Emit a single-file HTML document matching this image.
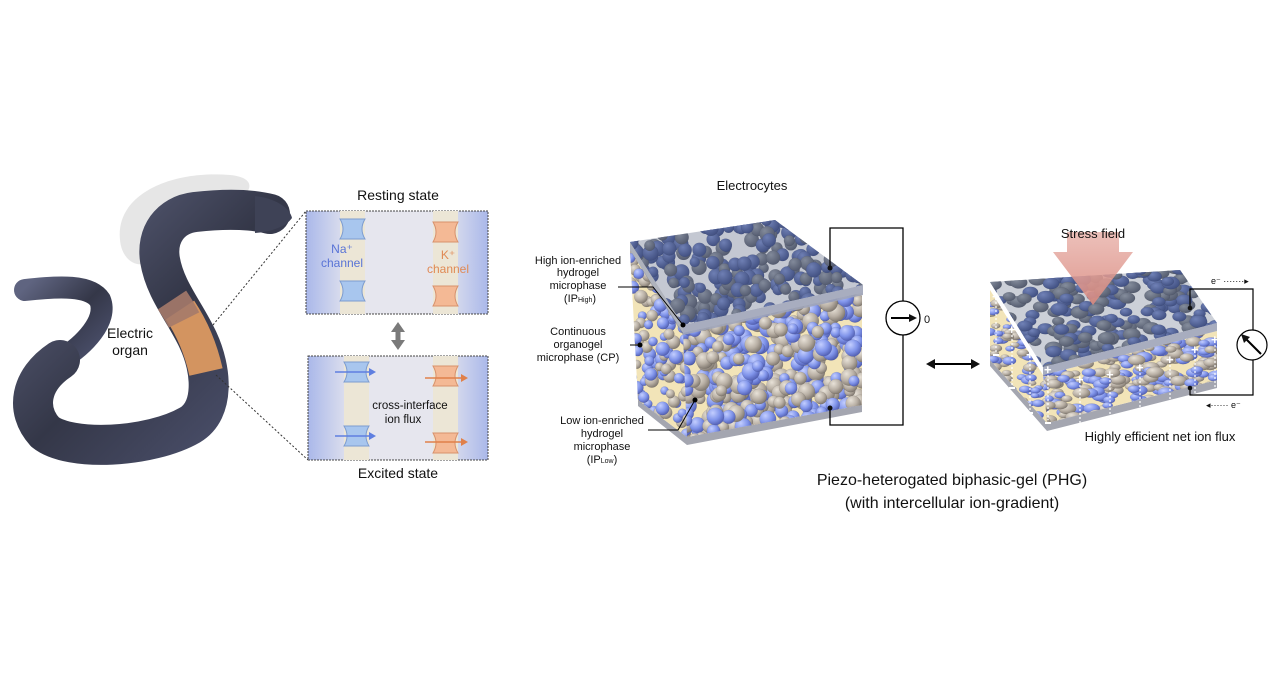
<!DOCTYPE html>
<html><head><meta charset="utf-8"><style>
html,body{margin:0;padding:0;background:#fff;width:1269px;height:685px;overflow:hidden}
svg{display:block}
text{font-family:"Liberation Sans",Arial,sans-serif}
</style></head><body>
<svg id="s" width="1269" height="685" viewBox="0 0 1269 685" xmlns="http://www.w3.org/2000/svg" fill="#111">
<defs>
<radialGradient id="gb" cx="35%" cy="30%" r="70%"><stop offset="0" stop-color="#c3ceff"/><stop offset=".6" stop-color="#8094ea"/><stop offset="1" stop-color="#5664b8"/></radialGradient>
<radialGradient id="gg" cx="35%" cy="30%" r="70%"><stop offset="0" stop-color="#e8e2d8"/><stop offset=".6" stop-color="#b8afa4"/><stop offset="1" stop-color="#857d74"/></radialGradient>
<radialGradient id="gt" cx="35%" cy="30%" r="70%"><stop offset="0" stop-color="#7c8fd0"/><stop offset="1" stop-color="#3a4a86"/></radialGradient>
<radialGradient id="gt2" cx="35%" cy="30%" r="70%"><stop offset="0" stop-color="#9aa0aa"/><stop offset="1" stop-color="#555a6a"/></radialGradient>
<linearGradient id="panel" x1="0" x2="1"><stop offset="0" stop-color="#aab8ea"/><stop offset=".25" stop-color="#e6e6ee"/><stop offset=".75" stop-color="#e6e6ee"/><stop offset="1" stop-color="#aab8ea"/></linearGradient>
<linearGradient id="eel" x1="0" y1="0" x2="1" y2="1"><stop offset="0" stop-color="#5f6480"/><stop offset=".5" stop-color="#343748"/><stop offset="1" stop-color="#4e5370"/></linearGradient>
<linearGradient id="pink" x1="0" y1="0" x2="0" y2="1"><stop offset="0" stop-color="#e8b0a8" stop-opacity=".8"/><stop offset="1" stop-color="#d98a80" stop-opacity=".9"/></linearGradient>
<clipPath id="f1"><polygon points="683,333 862,293 862,405 687,437"/></clipPath>
<clipPath id="l1"><polygon points="630,250 683,333 687,437 638,400"/></clipPath>
<clipPath id="t1"><polygon points="630,242 775,220 863,285 683,325"/></clipPath>
<clipPath id="f2"><polygon points="1043,375 1217,331 1217,380 1047,423"/></clipPath>
<clipPath id="l2"><polygon points="990,290 1043,375 1047,423 990,360"/></clipPath>
<clipPath id="t2"><polygon points="990,282 1180,270 1217,323 1043,367"/></clipPath>
</defs>

<!-- eel -->
<path d="M120,240 C115,195 170,170 230,175 C260,178 250,195 235,200 C190,205 160,230 150,260 C140,270 122,262 120,240Z" fill="#e0e0e0" opacity=".8"/>
<path d="M25,290 C60,286 90,285 100,300 C108,320 85,345 60,360" fill="none" stroke="url(#eel)" stroke-width="22" stroke-linecap="round"/>
<path d="M60,360 C30,380 25,410 45,432 C70,452 150,448 190,425 C215,410 212,370 198,340 C185,312 165,290 160,260 C156,235 170,215 195,212 C230,208 255,210 270,214" fill="none" stroke="url(#eel)" stroke-width="40" stroke-linecap="round"/>
<path d="M255,196 C275,198 290,208 292,218 C285,228 268,232 255,233Z" fill="#3e4256"/>
<path d="M180,310 C190,325 200,345 206,372" stroke="#d39460" stroke-width="34" fill="none"/>
<path d="M172,300 C176,306 180,312 184,320" stroke="#a57a6a" stroke-width="34" fill="none" opacity=".9"/>
<text x="130" y="338" font-size="14" text-anchor="middle">Electric</text>
<text x="130" y="355" font-size="14" text-anchor="middle">organ</text>
<line x1="213" y1="325" x2="306" y2="211" stroke="#333" stroke-dasharray="2,2"/>
<line x1="216" y1="375" x2="308" y2="460" stroke="#333" stroke-dasharray="2,2"/>

<!-- panels -->
<text x="398" y="200" font-size="14" text-anchor="middle">Resting state</text>
<rect x="306" y="211" width="182" height="103" fill="url(#panel)" stroke="#444" stroke-dasharray="2,1"/>
<rect x="340" y="211" width="25" height="103" fill="#ece6d6"/><rect x="433" y="211" width="25" height="103" fill="#ece6d6"/>
<g fill="#a8c6ee" stroke="#7d9cd0"><path d="M340,219 h25 q-6,10 0,20 h-25 q6,-10 0,-20Z"/><path d="M340,281 h25 q-6,10 0,20 h-25 q6,-10 0,-20Z"/></g>
<g fill="#f4b995" stroke="#d8916c"><path d="M433,222 h25 q-6,10 0,20 h-25 q6,-10 0,-20Z"/><path d="M433,286 h25 q-6,10 0,20 h-25 q6,-10 0,-20Z"/></g>
<text x="342" y="253" font-size="12" text-anchor="middle" fill="#5873d6">Na⁺</text>
<text x="342" y="267" font-size="12" text-anchor="middle" fill="#5873d6">channel</text>
<text x="448" y="259" font-size="12" text-anchor="middle" fill="#e08a55">K⁺</text>
<text x="448" y="273" font-size="12" text-anchor="middle" fill="#e08a55">channel</text>
<g fill="#7a7a7a"><polygon points="398,322 391,332 405,332"/><rect x="395.5" y="331" width="5" height="10"/><polygon points="398,350 391,340 405,340"/></g>
<rect x="308" y="356" width="180" height="104" fill="url(#panel)" stroke="#444" stroke-dasharray="2,1"/>
<rect x="344" y="356" width="25" height="104" fill="#ece6d6"/><rect x="433" y="356" width="25" height="104" fill="#ece6d6"/>
<g fill="#a8c6ee" stroke="#7d9cd0"><path d="M344,362 h25 q-6,10 0,20 h-25 q6,-10 0,-20Z"/><path d="M344,426 h25 q-6,10 0,20 h-25 q6,-10 0,-20Z"/></g>
<g fill="#f4b995" stroke="#d8916c"><path d="M433,366 h25 q-6,10 0,20 h-25 q6,-10 0,-20Z"/><path d="M433,433 h25 q-6,10 0,20 h-25 q6,-10 0,-20Z"/></g>
<g stroke="#5f7fe0" stroke-width="1.5"><line x1="335" y1="372" x2="372" y2="372"/><line x1="335" y1="436" x2="372" y2="436"/></g>
<g fill="#5f7fe0"><polygon points="376,372 369,368 369,376"/><polygon points="376,436 369,432 369,440"/></g>
<g stroke="#e0804a" stroke-width="1.5"><line x1="425" y1="378" x2="463" y2="378"/><line x1="425" y1="442" x2="463" y2="442"/></g>
<g fill="#e0804a"><polygon points="468,378 461,374 461,382"/><polygon points="468,442 461,438 461,446"/></g>
<text x="410" y="409" font-size="11.5" text-anchor="middle">cross-interface</text>
<text x="403" y="423" font-size="11.5" text-anchor="middle">ion flux</text>
<text x="398" y="478" font-size="14" text-anchor="middle">Excited state</text>

<!-- cube 1 -->
<text x="752" y="190" font-size="13" text-anchor="middle">Electrocytes</text>
<polygon points="638,400 687,437 862,405 862,412 687,445 638,406" fill="#a4a6b0"/>
<polygon points="630,250 683,333 862,293 862,405 687,437 638,400" fill="#f2e4b8"/>
<g id="c1f" clip-path="url(#f1)"></g>
<g id="c1l" clip-path="url(#l1)"></g>
<g id="c1t" clip-path="url(#t1)"></g>
<polygon points="630,242 775,220 863,285 683,325" fill="#56627e" opacity=".35"/>
<polygon points="683,325 863,285 863,295 683,335" fill="#9ea4b8" opacity=".9"/>
<polygon points="630,242 683,325 683,335 630,250" fill="#7a8090" opacity=".6"/>
<g font-size="11" text-anchor="middle">
<text x="578" y="264">High ion-enriched</text><text x="578" y="276">hydrogel</text><text x="578" y="289">microphase</text><text x="580" y="302">(IP<tspan font-size="7">High</tspan>)</text>
<text x="578" y="335">Continuous</text><text x="578" y="348">organogel</text><text x="578" y="361">microphase (CP)</text>
<text x="602" y="424">Low ion-enriched</text><text x="602" y="437">hydrogel</text><text x="602" y="450">microphase</text><text x="602" y="463">(IP<tspan font-size="7">Low</tspan>)</text>
</g>
<g stroke="#000" fill="none" stroke-width="1"><polyline points="618,287 653,287 683,325"/><line x1="630" y1="345" x2="640" y2="345"/><polyline points="648,430 678,430 695,400"/></g>
<g fill="#000"><circle cx="683" cy="325" r="2.5"/><circle cx="640" cy="345" r="2.5"/><circle cx="695" cy="400" r="2.5"/></g>
<polyline points="830,268 830,228 903,228 903,301" fill="none" stroke="#000" stroke-width="1.3"/>
<polyline points="903,335 903,425 830,425 830,408" fill="none" stroke="#000" stroke-width="1.3"/>
<circle cx="830" cy="268" r="2.5"/><circle cx="830" cy="408" r="2.5"/>
<circle cx="903" cy="318" r="17" fill="#fff" stroke="#000" stroke-width="1.3"/>
<line x1="891" y1="318" x2="912" y2="318" stroke="#000" stroke-width="2"/><polygon points="917,318 909,314 909,322"/>
<text x="924" y="323" font-size="11">0</text>
<line x1="932" y1="364" x2="974" y2="364" stroke="#000" stroke-width="2"/><polygon points="926,364 935,359 935,369"/><polygon points="980,364 971,359 971,369"/>

<!-- cube 2 -->
<polygon points="990,360 1047,423 1217,380 1217,388 1047,431 990,366" fill="#a4a6b0"/>
<polygon points="990,290 1043,375 1217,331 1217,380 1047,423 990,360" fill="#f2e4b8"/>
<g id="c2f" clip-path="url(#f2)"></g>
<g id="c2l" clip-path="url(#l2)"></g>
<g id="c2t" clip-path="url(#t2)"></g>
<polygon points="990,282 1180,270 1217,323 1043,367" fill="#56627e" opacity=".3"/>
<polygon points="1043,367 1217,323 1217,331 1043,375" fill="#9ea4b8" opacity=".9"/>
<polygon points="1067,252 1067,232 1119,232 1119,252 1133,252 1093,305 1053,252" fill="url(#pink)"/>
<text x="1093" y="238" font-size="13" text-anchor="middle">Stress field</text>
<g id="pm"></g>
<polyline points="1190,308 1190,289 1253,289 1253,330" fill="none" stroke="#000" stroke-width="1.2"/>
<polyline points="1253,360 1253,395 1190,395 1190,388" fill="none" stroke="#000" stroke-width="1.2"/>
<circle cx="1190" cy="308" r="2.3"/><circle cx="1190" cy="388" r="2.3"/>
<circle cx="1252" cy="345" r="15" fill="#fff" stroke="#000" stroke-width="1.2"/>
<line x1="1261" y1="354" x2="1245" y2="338" stroke="#000" stroke-width="2"/><polygon points="1241,334 1250,337 1244,343"/>
<text x="1211" y="284" font-size="9">e⁻ ·······▸</text>
<text x="1206" y="408" font-size="9">◂······ e⁻</text>
<text x="1160" y="441" font-size="13" text-anchor="middle">Highly efficient net ion flux</text>

<text x="952" y="485" font-size="16" text-anchor="middle">Piezo-heterogated biphasic-gel (PHG)</text>
<text x="952" y="508" font-size="16" text-anchor="middle">(with intercellular ion-gradient)</text>
</svg>
<script>
var seed=7;function r(){seed=(seed*16807)%2147483647;return seed/2147483647;}
var NS="http://www.w3.org/2000/svg";
function fill(id,x0,y0,x1,y1,n,rmin,rmax,sy,g1,g2){var g=document.getElementById(id);
for(var i=0;i<n;i++){var c=document.createElementNS(NS,"ellipse");var rr=rmin+r()*(rmax-rmin);
c.setAttribute("cx",x0+r()*(x1-x0));c.setAttribute("cy",y0+r()*(y1-y0));c.setAttribute("rx",rr);c.setAttribute("ry",rr*sy);
c.setAttribute("fill",r()<0.55?g1:g2);c.setAttribute("stroke","rgba(0,0,0,.12)");c.setAttribute("stroke-width",".5");g.appendChild(c);}}
fill("c1f",680,285,865,442,480,5,9,1,"url(#gb)","url(#gg)");
fill("c1l",628,245,690,440,160,4,7,1,"url(#gb)","url(#gg)");
fill("c1t",625,215,868,330,330,5,8,1,"url(#gt)","url(#gt2)");
fill("c2f",1040,325,1220,428,360,5,9,.6,"url(#gb)","url(#gg)");
fill("c2l",986,285,1050,428,130,4,7,.6,"url(#gb)","url(#gg)");
fill("c2t",985,265,1220,372,300,6,9,.7,"url(#gt)","url(#gt2)");
var pm=document.getElementById("pm");
var xs=[[996,297],[1012,330],[1030,355],[1048,370],[1080,380],[1110,375],[1140,368],[1170,360],[1195,350],[1215,340]];
var h='';xs.forEach(function(p){var x=p[0],y=p[1];var yb=y+(x<1043?55:50);
h+='<line x1="'+x+'" y1="'+(y+5)+'" x2="'+x+'" y2="'+yb+'" stroke="#fff" stroke-width="1.2" stroke-dasharray="2,2"/>';
h+='<text x="'+(x-4)+'" y="'+(y+4)+'" font-size="13" fill="#fff" font-weight="bold">+</text>';
h+='<rect x="'+(x-3)+'" y="'+(yb+2)+'" width="6" height="2" fill="#fff"/>';});
pm.innerHTML=h;
</script>
</body></html>
